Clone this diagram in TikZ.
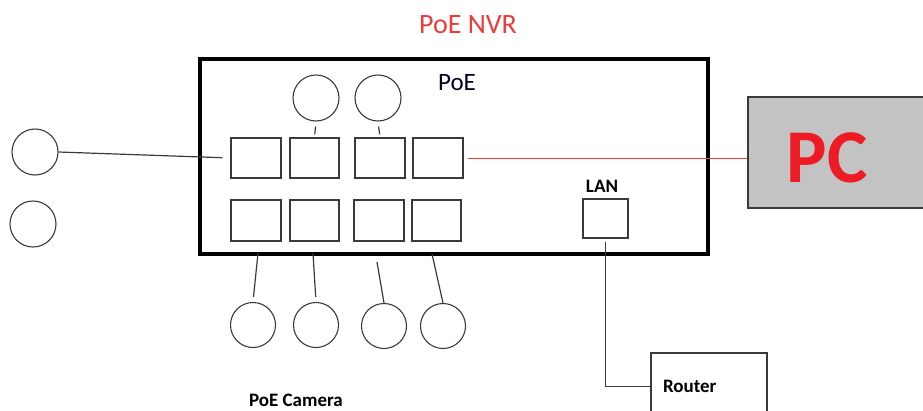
\documentclass[tikz,border=0pt]{standalone}
\usepackage{fontspec}
\setmainfont{Carlito}
\definecolor{linegray}{HTML}{3A3A3A}
\definecolor{nvrred}{HTML}{EE3B3B}
\definecolor{pcred}{HTML}{ED1C24}
\definecolor{pcgray}{HTML}{C3C3C3}
\begin{document}
\begin{tikzpicture}[x=1pt,y=-1pt,
  port/.style={draw=linegray,line width=1.2pt,inner sep=0pt,minimum width=50pt,minimum height=40pt},
  cam/.style={draw=linegray,line width=1.1pt,circle,inner sep=0pt,minimum size=46pt},
  wire/.style={draw=linegray,line width=1.2pt},
  redwire/.style={draw=nvrred,line width=0.9pt},
  boldlbl/.style={font=\bfseries\fontsize{19}{19}\selectfont,inner sep=0pt,text=black}
]
\useasboundingbox (0,0) rectangle (923,410);
% title
\node[text=nvrred,font=\fontsize{28}{28}\selectfont,inner sep=0pt] (title) at (468,25) {PoE NVR};
% NVR box
\node[draw=black,line width=3.5pt,inner sep=0pt,minimum width=508pt,minimum height=195pt] (nvr) at (454,156.5) {};
\node[text=black!85!blue,font=\fontsize{25}{25}\selectfont,inner sep=0pt] (poe) at (457,83) {PoE};
% ports
\node[port] (p1) at (256,158) {};
\node[port,minimum width=49pt] (p2) at (314.5,158) {};
\node[port] (p3) at (380,158) {};
\node[port] (p4) at (438,158) {};
\node[port,minimum height=41pt] (q1) at (256,220.5) {};
\node[port,minimum width=49pt,minimum height=41pt] (q2) at (314.5,220.5) {};
\node[port,minimum height=41pt] (q3) at (379,220.5) {};
\node[port,minimum width=49pt,minimum height=41pt] (q4) at (436.5,220.5) {};
% LAN
\node[boldlbl] (lanlbl) at (602,186) {LAN};
\node[port,minimum width=45pt,minimum height=39pt] (lan) at (605.5,218.5) {};
% top cameras
\node[cam] (t1) at (316,98) {};
\node[cam] (t2) at (378,98) {};
\draw[wire,shorten <=5pt,shorten >=3pt] (t1.south) -- (p2.north);
\draw[wire,shorten <=5pt,shorten >=3pt] (t2.south) -- (p3.north);
% left cameras
\node[cam] (l1) at (35,152) {};
\node[cam] (l2) at (33,224) {};
\draw[wire,shorten >=8pt] (l1.east) -- (p1.west);
% bottom cameras
\node[cam,minimum size=45pt] (c1) at (253,325) {};
\node[cam,minimum size=45pt] (c2) at (316,325) {};
\node[cam,minimum size=45pt] (c3) at (384,326) {};
\node[cam,minimum size=45pt] (c4) at (443,326) {};
\coordinate (b1) at (258,253);
\coordinate (b2) at (313,253);
\coordinate (b3) at (377,262);
\coordinate (b4) at (432,254);
\draw[wire,shorten >=5pt] (b1) -- (c1.north);
\draw[wire,shorten >=5pt] (b2) -- (c2.north);
\draw[wire] (b3) -- (c3.north);
\draw[wire] (b4) -- (c4.north);
\node[boldlbl] (camlbl) at (296,400) {PoE Camera};
% PC
\node[draw=linegray,fill=pcgray,line width=1.2pt,inner sep=0pt,minimum width=182pt,minimum height=111pt] (pc) at (839,152.5) {};
\node[text=pcred,font=\bfseries\fontsize{76}{76}\selectfont,inner sep=0pt] (pclbl) at (827,158) {PC};
\draw[redwire,shorten <=4pt] (p4.east) -- (p4.east -| pc.west);
% Router
\node[draw=linegray,line width=1.2pt,fill=white,inner xsep=12pt,inner ysep=0pt,text width=92pt,align=left,minimum height=67pt,font=\bfseries\fontsize{19}{19}\selectfont] (router) at (709,386.5) {Router};
\draw[wire,shorten <=3pt] (lan.south) -- (lan.south |- router.west) -- (router.west);
\end{tikzpicture}
\end{document}
